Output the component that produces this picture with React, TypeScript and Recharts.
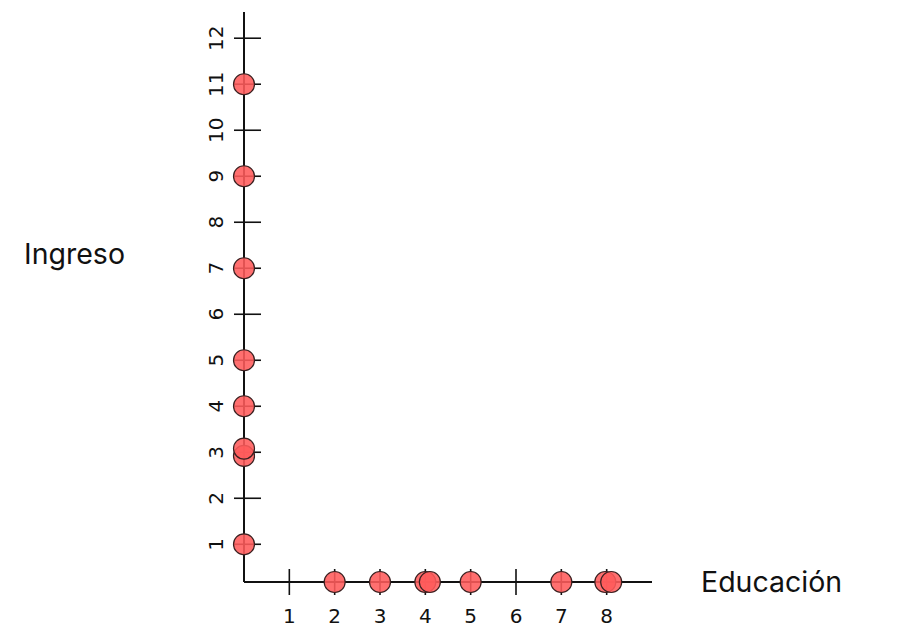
import React from 'react';
import { ScatterChart, Scatter, XAxis, YAxis } from 'recharts';

// Valores sobre el eje de Ingreso (educación = 0)
const ingresoValues = [1, 2.92, 3.08, 4, 5, 7, 9, 11];
// Valores sobre el eje de Educación (ingreso en el mínimo del eje)
const educacionValues = [2, 3, 4, 4.1, 5, 7, 7.97, 8.1];

const xTicks = [1, 2, 3, 4, 5, 6, 7, 8];
const yTicks = [1, 2, 3, 4, 5, 6, 7, 8, 9, 10, 11, 12];

const Y_MIN = 0.18;
const Y_MAX = 12.57;

const points = [
    ...ingresoValues.map((v) => ({ educacion: 0, ingreso: v })),
    ...educacionValues.map((v) => ({ educacion: v, ingreso: Y_MIN })),
];

const tickFont = '"DejaVu Sans", sans-serif';
const labelFont = 'Inter, sans-serif';

const XTick = ({ x, y, payload }: any) => (
    <g>
        <line x1={x} x2={x} y1={y - 13} y2={y + 13} stroke="#111" strokeWidth={1.6} />
        <text x={x} y={y + 41} textAnchor="middle" fontSize={20} fontFamily={tickFont} fill="#111">
            {payload.value}
        </text>
    </g>
);

const YTick = ({ x, y, payload }: any) => (
    <g>
        <line x1={x - 10} x2={x + 17} y1={y} y2={y} stroke="#111" strokeWidth={1.6} />
        <g transform={`translate(${x - 21},${y}) rotate(-90)`}>
            <text x={0} y={0} textAnchor="middle" fontSize={20} fontFamily={tickFont} fill="#111">
                {payload.value}
            </text>
        </g>
    </g>
);

const Dot = ({ cx, cy }: any) => (
    <circle cx={cx} cy={cy} r={10.5} fill="#ff5b5b" fillOpacity={0.88} stroke="#3a2020" strokeWidth={1.2} />
);

const Empty = () => <g />;

const W = 912;
const H = 634;

export default function App() {
    return (
        <div style={{ position: 'relative', width: W, height: H, background: '#fff' }}>
            <style>{`body{margin:0}`}</style>
            {/* capa de ejes */}
            <div style={{ position: 'absolute', left: 0, top: 0 }}>
                <ScatterChart width={W} height={H} margin={{ top: 12, right: 260, bottom: 0, left: 184 }}>
                    <XAxis
                        type="number"
                        dataKey="educacion"
                        domain={[0, 9]}
                        ticks={xTicks}
                        height={52}
                        tickSize={0}
                        tickMargin={0}
                        tickLine={false}
                        axisLine={{ stroke: '#111', strokeWidth: 2 }}
                        tick={<XTick />}
                        interval={0}
                    />
                    <YAxis
                        type="number"
                        dataKey="ingreso"
                        domain={[Y_MIN, Y_MAX]}
                        ticks={yTicks}
                        width={60}
                        tickSize={0}
                        tickMargin={0}
                        tickLine={false}
                        axisLine={{ stroke: '#111', strokeWidth: 2 }}
                        tick={<YTick />}
                        interval={0}
                    />
                    <Scatter data={points} shape={<Empty />} isAnimationActive={false} />
                </ScatterChart>
            </div>
            {/* capa de puntos, encima de los ejes */}
            <div style={{ position: 'absolute', left: 0, top: 0 }}>
                <ScatterChart width={W} height={H} margin={{ top: 12, right: 260, bottom: 52, left: 244 }}>
                    <XAxis type="number" dataKey="educacion" domain={[0, 9]} hide />
                    <YAxis type="number" dataKey="ingreso" domain={[Y_MIN, Y_MAX]} hide />
                    <Scatter data={points} shape={<Dot />} isAnimationActive={false} />
                </ScatterChart>
            </div>
            <div style={{ position: 'absolute', left: 24, top: 240, fontFamily: labelFont, fontSize: 28.5, color: '#111', lineHeight: 1 }}>
                Ingreso
            </div>
            <div style={{ position: 'absolute', left: 701, top: 568, fontFamily: labelFont, fontSize: 28.5, color: '#111', lineHeight: 1 }}>
                Educación
            </div>
        </div>
    );
}
